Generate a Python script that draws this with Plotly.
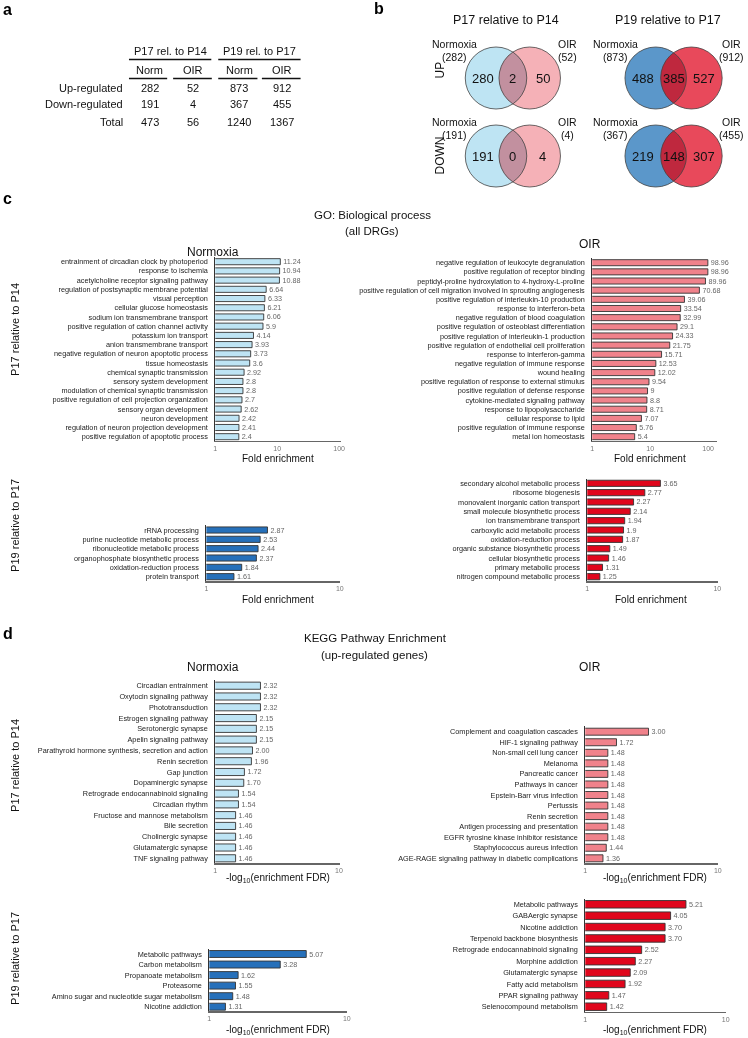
import numpy as np
import plotly.graph_objects as go

W, H = 748, 1038
FONT = "Liberation Sans, Arial, sans-serif"

# ---------------- data ----------------
table_groups = ["P17 rel. to P14", "P19 rel. to P17"]
table_cols = ["Norm", "OIR", "Norm", "OIR"]
table_rows = ["Up-regulated", "Down-regulated", "Total"]
table_up = [282, 52, 873, 912]
table_down = [191, 4, 367, 455]
table_total = [473, 56, 1240, 1367]

venn_titles = ["P17 relative to P14", "P19 relative to P17"]
venn_up_p17 = [280, 2, 50]
venn_up_p17_tot = [282, 52]
venn_down_p17 = [191, 0, 4]
venn_down_p17_tot = [191, 4]
venn_up_p19 = [488, 385, 527]
venn_up_p19_tot = [873, 912]
venn_down_p19 = [219, 148, 307]
venn_down_p19_tot = [367, 455]

go_norm_p17_terms = ["entrainment of circadian clock by photoperiod", "response to ischemia",
    "acetylcholine receptor signaling pathway", "regulation of postsynaptic membrane potential",
    "visual perception", "cellular glucose homeostasis", "sodium ion transmembrane transport",
    "positive regulation of cation channel activity", "potassium ion transport",
    "anion transmembrane transport", "negative regulation of neuron apoptotic process",
    "tissue homeostasis", "chemical synaptic transmission", "sensory system development",
    "modulation of chemical synaptic transmission", "positive regulation of cell projection organization",
    "sensory organ development", "neuron development", "regulation of neuron projection development",
    "positive regulation of apoptotic process"]
go_norm_p17_vals = [11.24, 10.94, 10.88, 6.64, 6.33, 6.21, 6.06, 5.9, 4.14, 3.93, 3.73, 3.6,
    2.92, 2.8, 2.8, 2.7, 2.62, 2.42, 2.41, 2.4]

go_oir_p17_terms = ["negative regulation of leukocyte degranulation", "positive regulation of receptor binding",
    "peptidyl-proline hydroxylation to 4-hydroxy-L-proline",
    "positive regulation of cell migration involved in sprouting angiogenesis",
    "positive regulation of interleukin-10 production", "response to interferon-beta",
    "negative regulation of blood coagulation", "positive regulation of osteoblast differentiation",
    "positive regulation of interleukin-1 production", "positive regulation of endothelial cell proliferation",
    "response to interferon-gamma", "negative regulation of immune response", "wound healing",
    "positive regulation of response to external stimulus", "positive regulation of defense response",
    "cytokine-mediated signaling pathway", "response to lipopolysaccharide", "cellular response to lipid",
    "positive regulation of immune response", "metal ion homeostasis"]
go_oir_p17_vals = [98.96, 98.96, 89.96, 70.68, 39.06, 33.54, 32.99, 29.1, 24.33, 21.75, 15.71,
    12.53, 12.02, 9.54, 9, 8.8, 8.71, 7.07, 5.76, 5.4]

go_norm_p19_terms = ["rRNA processing", "purine nucleotide metabolic process", "ribonucleotide metabolic process",
    "organophosphate biosynthetic process", "oxidation-reduction process", "protein transport"]
go_norm_p19_vals = [2.87, 2.53, 2.44, 2.37, 1.84, 1.61]

go_oir_p19_terms = ["secondary alcohol metabolic process", "ribosome biogenesis",
    "monovalent inorganic cation transport", "small molecule biosynthetic process",
    "ion transmembrane transport", "carboxylic acid metabolic process", "oxidation-reduction process",
    "organic substance biosynthetic process", "cellular biosynthetic process",
    "primary metabolic process", "nitrogen compound metabolic process"]
go_oir_p19_vals = [3.65, 2.77, 2.27, 2.14, 1.94, 1.9, 1.87, 1.49, 1.46, 1.31, 1.25]

kegg_norm_p17_terms = ["Circadian entrainment", "Oxytocin signaling pathway", "Phototransduction",
    "Estrogen signaling pathway", "Serotonergic synapse", "Apelin signaling pathway",
    "Parathyroid hormone synthesis, secretion and action", "Renin secretion", "Gap junction",
    "Dopaminergic synapse", "Retrograde endocannabinoid signaling", "Circadian rhythm",
    "Fructose and mannose metabolism", "Bile secretion", "Cholinergic synapse",
    "Glutamatergic synapse", "TNF signaling pathway"]
kegg_norm_p17_vals = [2.32, 2.32, 2.32, 2.15, 2.15, 2.15, 2.00, 1.96, 1.72, 1.70, 1.54, 1.54,
    1.46, 1.46, 1.46, 1.46, 1.46]

kegg_oir_p17_terms = ["Complement and coagulation cascades", "HIF-1 signaling pathway",
    "Non-small cell lung cancer", "Melanoma", "Pancreatic cancer", "Pathways in cancer",
    "Epstein-Barr virus infection", "Pertussis", "Renin secretion", "Antigen processing and presentation",
    "EGFR tyrosine kinase inhibitor resistance", "Staphylococcus aureus infection",
    "AGE-RAGE signaling pathway in diabetic complications"]
kegg_oir_p17_vals = [3.00, 1.72, 1.48, 1.48, 1.48, 1.48, 1.48, 1.48, 1.48, 1.48, 1.48, 1.44, 1.36]

kegg_norm_p19_terms = ["Metabolic pathways", "Carbon metabolism", "Propanoate metabolism", "Proteasome",
    "Amino sugar and nucleotide sugar metabolism", "Nicotine addiction"]
kegg_norm_p19_vals = [5.07, 3.28, 1.62, 1.55, 1.48, 1.31]

kegg_oir_p19_terms = ["Metabolic pathways", "GABAergic synapse", "Nicotine addiction",
    "Terpenoid backbone biosynthesis", "Retrograde endocannabinoid signaling", "Morphine addiction",
    "Glutamatergic synapse", "Fatty acid metabolism", "PPAR signaling pathway", "Selenocompound metabolism"]
kegg_oir_p19_vals = [5.21, 4.05, 3.70, 3.70, 2.52, 2.27, 2.09, 1.92, 1.47, 1.42]

# ---------------- helpers ----------------
def px(x):
    return x / W

def py(y):
    return 1 - y / H

fig = go.Figure()
annotations = []
shapes = []
layout_axes = {}


def text(x, y, s, size, anchor="center", color="#111", angle=0, yanchor="middle"):
    annotations.append(dict(x=px(x), y=py(y), xref="paper", yref="paper", text=s,
                            showarrow=False, xanchor=anchor, yanchor=yanchor, textangle=angle,
                            font=dict(size=size, color=color, family=FONT)))


def hline(x0, x1, y, width=1.3, color="#111"):
    shapes.append(dict(type="line", xref="paper", yref="paper", x0=px(x0), x1=px(x1),
                       y0=py(y), y1=py(y), line=dict(color=color, width=width)))

# ---------------- panel letters ----------------
for lab, x, y in [("a", 6, 10), ("b", 380, 9), ("c", 6, 199), ("d", 6, 633)]:
    text(x, y, "<b>%s</b>" % lab, 16, color="#000")

# ---------------- panel a: table ----------------
col_x = [149, 193, 239, 282]
text(169.5, 51.5, table_groups[0], 11)
text(259.5, 51.5, table_groups[1], 11)
hline(128, 211, 59.5, 1.6)
hline(218, 301, 59.5, 1.6)
for cx, c in zip(col_x, table_cols):
    text(cx, 70, c, 11)
for (a0, a1) in [(128, 166.5), (172.5, 211.5), (218, 257.5), (262, 301)]:
    hline(a0, a1, 78.5, 1.6)
for ry, lab, vals in zip([87.5, 104.5, 121.5], table_rows, [table_up, table_down, table_total]):
    text(124, ry, lab, 11, anchor="right")
    for cx, v in zip(col_x, vals):
        text(cx, ry, str(v), 11)

# ---------------- panel b: Venn diagrams ----------------
def lens_path(a, b, cy, r, npts=40):
    d = b - a
    th = np.arccos((d / 2) / r)
    t1 = np.linspace(-th, th, npts)
    pts = [(a + r * np.cos(t), cy + r * np.sin(t)) for t in t1]
    t2 = np.linspace(np.pi + th, np.pi - th, npts)
    pts += [(b + r * np.cos(t), cy + r * np.sin(t)) for t in t2]
    return "M " + " L ".join("%.5f,%.5f" % (px(x), py(y)) for x, y in pts) + " Z"


def venn(a, b, cy, r, cols, counts, totals, lab_left_x, lab_right_x):
    for cx, col in [(a, cols[0]), (b, cols[1])]:
        shapes.append(dict(type="circle", xref="paper", yref="paper", x0=px(cx - r), x1=px(cx + r),
                           y0=py(cy + r), y1=py(cy - r), fillcolor=col, line=dict(width=0)))
    shapes.append(dict(type="path", xref="paper", yref="paper", path=lens_path(a, b, cy, r),
                       fillcolor=cols[2], line=dict(width=0)))
    for cx in (a, b):
        shapes.append(dict(type="circle", xref="paper", yref="paper", x0=px(cx - r), x1=px(cx + r),
                           y0=py(cy + r), y1=py(cy - r), line=dict(color="#444", width=0.8)))
    mid = (a + b) / 2
    text(a - 0.42 * r, cy, str(counts[0]), 13, color="#111")
    text(mid, cy, str(counts[1]), 13, color="#111")
    text(b + 0.42 * r, cy, str(counts[2]), 13, color="#111")
    text(lab_left_x, cy - 34, "Normoxia", 10.5)
    text(lab_left_x, cy - 21, "(%d)" % totals[0], 10.5)
    text(lab_right_x, cy - 34, "OIR", 10.5)
    text(lab_right_x, cy - 21, "(%d)" % totals[1], 10.5)

light_cols = ["#BEE4F3", "#F5B1B7", "#C2909F"]
dark_cols = ["#5B97CA", "#E8495B", "#BF283E"]
text(508, 20, venn_titles[0], 12.5)
text(671, 20, venn_titles[1], 12.5)
text(442, 70, "UP", 12, angle=-90)
text(442, 155, "DOWN", 12, angle=-90)
venn(498, 532, 78, 31, light_cols, venn_up_p17, venn_up_p17_tot, 456, 570)
venn(498, 532, 156, 31, light_cols, venn_down_p17, venn_down_p17_tot, 456, 570)
venn(659, 695, 78, 31, dark_cols, venn_up_p19, venn_up_p19_tot, 618, 735)
venn(659, 695, 156, 31, dark_cols, venn_down_p19, venn_down_p19_tot, 618, 735)

# ---------------- bar panels ----------------
def fmt_g(v):
    return "%g" % v

def fmt_2(v):
    return "%.2f" % v


def bar_panel(i, terms, vals, fmt, color, x0, decade, xend, first, last, lab_size, ticks):
    n = len(terms)
    s = (last - first) / (n - 1)
    top = first - 0.5 * s
    bottom = last + 0.45 * s
    xa = "x%d" % i
    ya = "y%d" % i
    fig.add_trace(go.Bar(x=vals, y=terms, orientation="h", width=0.66,
                         marker=dict(color=color, line=dict(color="#333", width=0.9)),
                         text=[fmt(v) for v in vals], textposition="outside", constraintext="none",
                         textfont=dict(size=7.2, color="#666", family=FONT), cliponaxis=False,
                         xaxis=xa, yaxis=ya, hoverinfo="skip", showlegend=False))
    layout_axes["xaxis%d" % i] = dict(domain=[px(x0), px(xend)], anchor=ya, type="log",
                                      range=[0, (xend - x0) / decade + 0.003],
                                      tickvals=ticks, ticktext=[str(t) for t in ticks],
                                      showline=True, linecolor="#666", linewidth=1.6,
                                      showgrid=False, zeroline=False, ticks="",
                                      tickfont=dict(size=7, color="#777", family=FONT))
    layout_axes["yaxis%d" % i] = dict(domain=[py(bottom), py(top)], anchor=xa, type="category",
                                      categoryorder="array", categoryarray=terms,
                                      range=[n - 1 + 0.45, -0.5], showline=True, linecolor="#333",
                                      linewidth=1, ticks="", ticklabelstandoff=5,
                                      tickfont=dict(size=lab_size, color="#222", family=FONT),
                                      showgrid=False, zeroline=False)

LB, PK, DB, RD = "#BEE4F4", "#F0828B", "#2670BA", "#E0061C"

bar_panel(1, go_norm_p17_terms, go_norm_p17_vals, fmt_g, LB, 215, 62.5, 342, 261.7, 436.7, 7.3, [1, 10, 100])
bar_panel(2, go_oir_p17_terms, go_oir_p17_vals, fmt_g, PK, 595, 58.5, 721, 262.7, 436.7, 7.3, [1, 10, 100])
bar_panel(3, go_norm_p19_terms, go_norm_p19_vals, fmt_g, DB, 206, 135, 341, 530, 576.7, 7.3, [1, 10])
bar_panel(4, go_oir_p19_terms, go_oir_p19_vals, fmt_g, RD, 590, 131.5, 721.5, 483.3, 576.7, 7.3, [1, 10])
bar_panel(5, kegg_norm_p17_terms, kegg_norm_p17_vals, fmt_2, LB, 215, 125, 341, 685.7, 858.3, 7.3, [1, 10])
bar_panel(6, kegg_oir_p17_terms, kegg_oir_p17_vals, fmt_2, PK, 588, 134, 722, 731.7, 858.3, 7.3, [1, 10])
bar_panel(7, kegg_norm_p19_terms, kegg_norm_p19_vals, fmt_2, DB, 209, 139, 348, 954, 1006.7, 7.3, [1, 10])
bar_panel(8, kegg_oir_p19_terms, kegg_oir_p19_vals, fmt_2, RD, 588, 142, 730, 904.3, 1006.7, 7.3, [1, 10])

# ---------------- panel titles ----------------
text(373, 215, "GO: Biological process", 11.5)
text(373, 231, "(all DRGs)", 11.5)
text(213, 252, "Normoxia", 12)
text(593, 244, "OIR", 12)
text(278, 459, "Fold enrichment", 10)
text(653, 459, "Fold enrichment", 10)
text(278, 599, "Fold enrichment", 10)
text(654, 599, "Fold enrichment", 10)
text(13, 329, "P17 relative to P14", 11, angle=-90)
text(13, 525, "P19 relative to P17", 11, angle=-90)

text(377, 638, "KEGG Pathway Enrichment", 11.5)
text(376, 655, "(up-regulated genes)", 11.5)
text(213, 667, "Normoxia", 12)
text(593, 667, "OIR", 12)
flab = "-log<sub>10</sub>(enrichment FDR)"
text(278, 878, flab, 10)
text(658, 878, flab, 10)
text(278, 1030, flab, 10)
text(658, 1030, flab, 10)
text(13, 765, "P17 relative to P14", 11, angle=-90)
text(13, 958, "P19 relative to P17", 11, angle=-90)

fig.update_layout(width=W, height=H, margin=dict(l=0, r=0, t=0, b=0), autosize=False,
                  paper_bgcolor="white", plot_bgcolor="white", font=dict(family=FONT),
                  annotations=annotations, shapes=shapes, bargap=0.3, hovermode=False, **layout_axes)

fig.write_html("out.html", config={"displayModeBar": False, "staticPlot": True},
               post_script="document.body.style.margin='0px';document.body.style.overflow='hidden';"
                           "document.querySelectorAll('.plot-container').forEach(function(s){s.style.willChange='transform';});")
